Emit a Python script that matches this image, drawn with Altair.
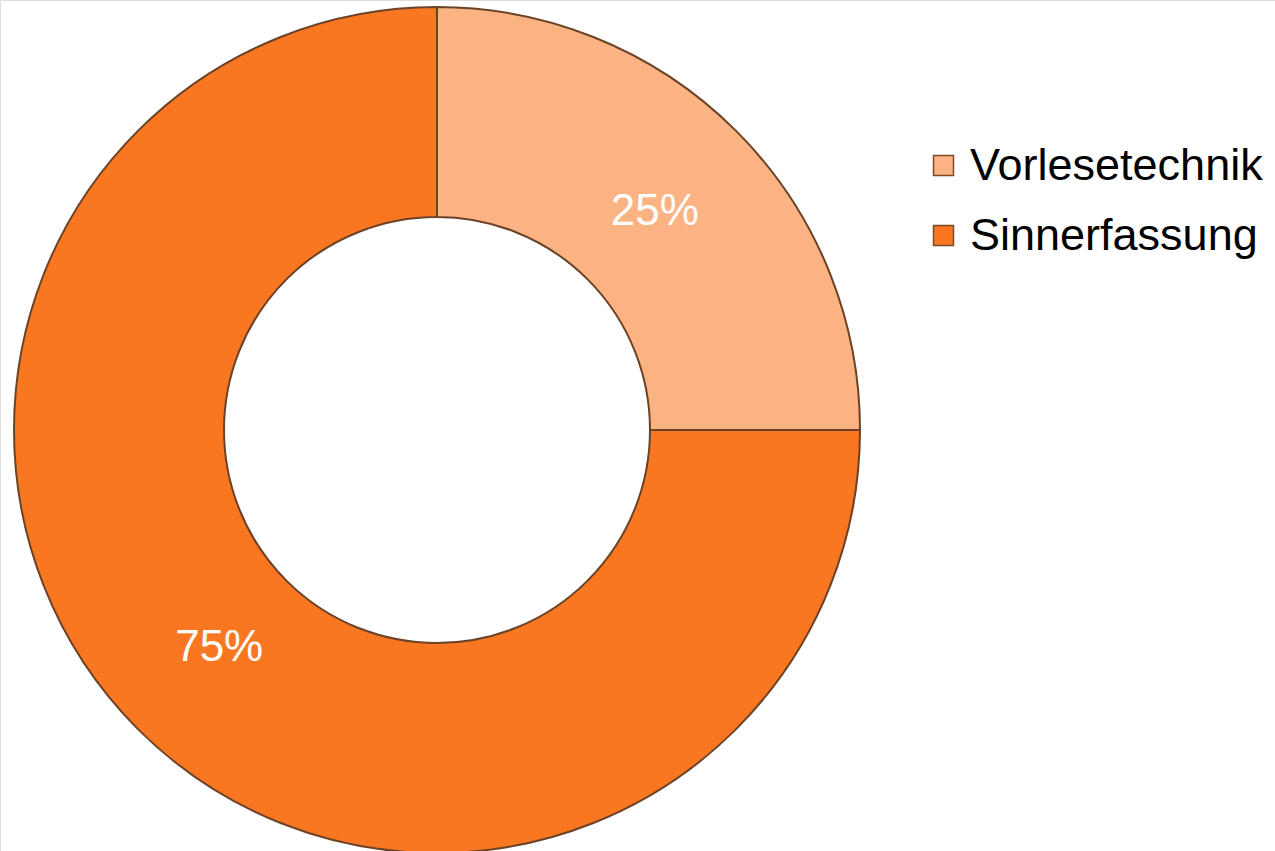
import altair as alt
import pandas as pd

categories = ["Vorlesetechnik", "Sinnerfassung"]
values = [25, 75]
labels = ["25%", "75%"]
colors = ["#FBB383", "#FA7722"]

df = pd.DataFrame({
    "Kategorie": categories,
    "Wert": values,
    "Label": labels,
    "Reihenfolge": list(range(len(categories))),
})

cx, cy = 437, 430

base = alt.Chart(df).encode(
    theta=alt.Theta("Wert:Q", stack=True),
    order=alt.Order("Reihenfolge:Q"),
)

arcs = base.mark_arc(
    outerRadius=423, innerRadius=213, stroke="#6b4226", strokeWidth=2
).encode(
    x=alt.value(cx),
    y=alt.value(cy),
    color=alt.Color(
        "Kategorie:N",
        scale=alt.Scale(domain=categories, range=colors),
        sort=categories,
        legend=alt.Legend(
            title=None,
            orient="none",
            legendX=921,
            legendY=143,
            symbolType="square",
            symbolSize=400,
            symbolStrokeColor="#7a4a2a",
            symbolStrokeWidth=1.5,
            labelFontSize=45,
            labelFont="Liberation Sans",
            labelColor="#000000",
            labelLimit=400,
            rowPadding=24,
            labelOffset=4,
        ),
    ),
)

text = base.mark_text(
    radius=308, fontSize=44, font="Liberation Sans", color="white"
).encode(
    x=alt.value(cx),
    y=alt.value(cy),
    text="Label:N",
)

chart = (
    alt.layer(arcs, text)
    .properties(
        width=1275,
        height=851,
        padding=0,
        autosize=alt.AutoSizeParams(type="none"),
    )
    .configure_view(stroke=None)
    .configure(background="white")
)

chart.save("out.html", embed_options={"renderer": "svg", "actions": False})
